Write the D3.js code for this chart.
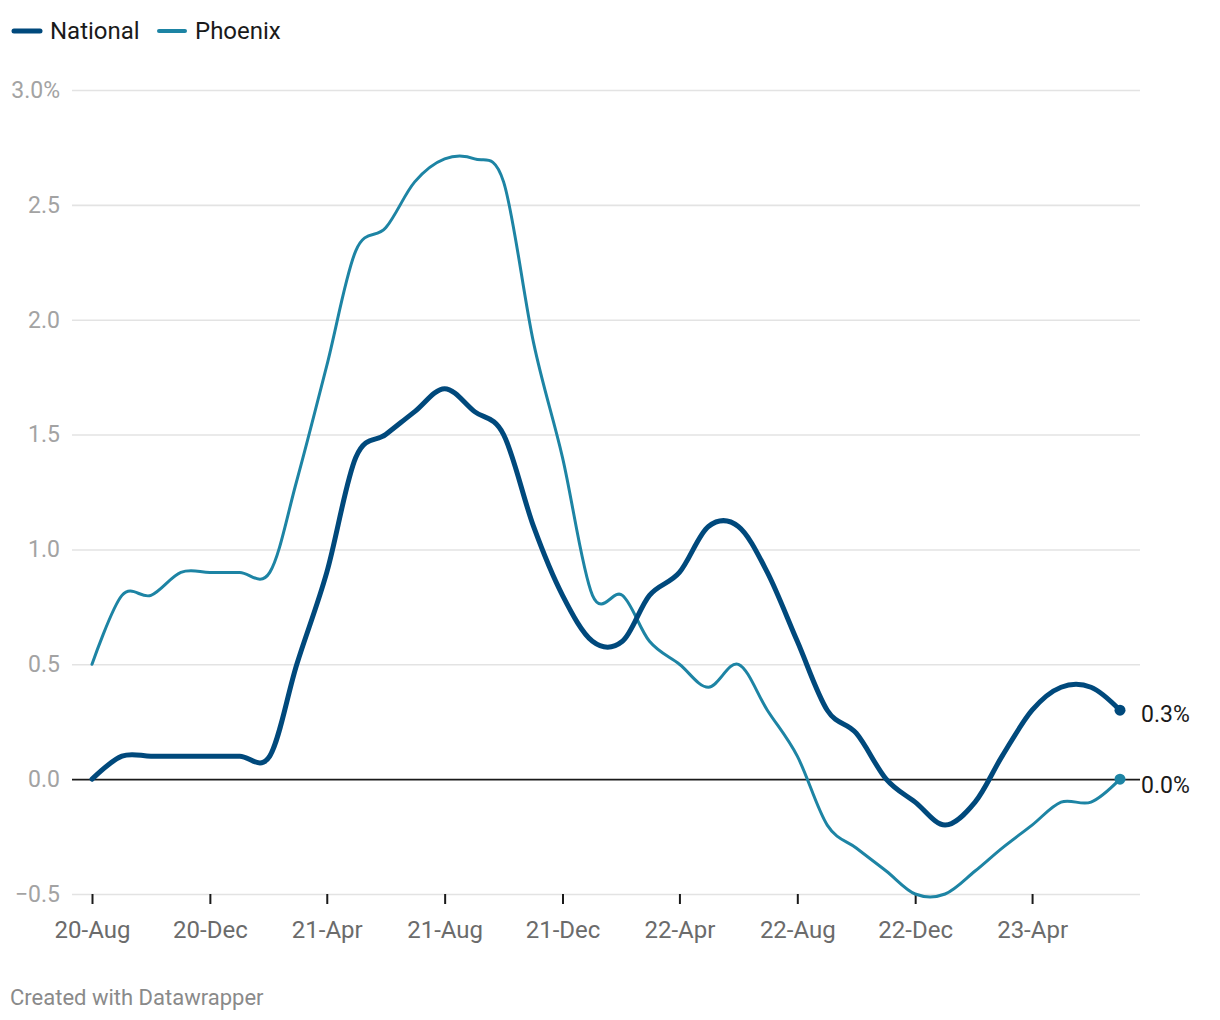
<!DOCTYPE html>
<html>
<head>
<meta charset="utf-8">
<script src="https://cdn.jsdelivr.net/npm/d3@7"></script>
<style>
	body { margin: 0; background: #fff; font-family: Roboto, "Noto Sans", sans-serif; }
	#chart svg { display: block; }
</style>
</head>
<body>
<div id="chart"></div>
<script>
var months = ["2020-08","2020-09","2020-10","2020-11","2020-12","2021-01","2021-02","2021-03","2021-04",
	"2021-05","2021-06","2021-07","2021-08","2021-09","2021-10","2021-11","2021-12","2022-01","2022-02",
	"2022-03","2022-04","2022-05","2022-06","2022-07","2022-08","2022-09","2022-10","2022-11","2022-12",
	"2023-01","2023-02","2023-03","2023-04","2023-05","2023-06","2023-07"];

var national = [0.0, 0.1, 0.1, 0.1, 0.1, 0.1, 0.1, 0.5, 0.9, 1.4, 1.5, 1.6, 1.7, 1.6, 1.5, 1.1, 0.8, 0.6,
	0.6, 0.8, 0.9, 1.1, 1.1, 0.9, 0.6, 0.3, 0.2, 0.0, -0.1, -0.2, -0.1, 0.1, 0.3, 0.4, 0.4, 0.3];

var phoenix = [0.5, 0.8, 0.8, 0.9, 0.9, 0.9, 0.9, 1.3, 1.8, 2.3, 2.4, 2.6, 2.7, 2.7, 2.6, 1.9, 1.4, 0.8,
	0.8, 0.6, 0.5, 0.4, 0.5, 0.3, 0.1, -0.2, -0.3, -0.4, -0.5, -0.5, -0.4, -0.3, -0.2, -0.1, -0.1, 0.0];

var yTicks = [-0.5, 0, 0.5, 1.0, 1.5, 2.0, 2.5, 3.0];
var xTicks = ["2020-08","2020-12","2021-04","2021-08","2021-12","2022-04","2022-08","2022-12","2023-04"];

var seriesNames = ["National", "Phoenix"];
var seriesColors = ["#00497c", "#1d84a4"];
var seriesWidths = [5, 3];

var width = 1220, height = 1020;
var parse = d3.timeParse("%Y-%m");

var series = [national, phoenix].map(function(vals, k) {
	return {
		name: seriesNames[k],
		color: seriesColors[k],
		width: seriesWidths[k],
		values: vals.map(function(v, i) { return { date: parse(months[i]), value: v }; })
	};
});

var svg = d3.select("#chart").append("svg")
	.attr("width", width)
	.attr("height", height);

var x = d3.scaleTime()
	.domain([parse(months[0]), parse(months[months.length - 1])])
	.range([92, 1120]);

var y = d3.scaleLinear()
	.domain([-0.5, 3])
	.range([894, 90]);

var gridLeft = 72, gridRight = 1140;

// horizontal grid + y labels
var yAxis = svg.append("g")
	.attr("transform", "translate(" + gridRight + ",0)")
	.call(d3.axisLeft(y)
		.tickValues(yTicks)
		.tickSize(gridRight - gridLeft)
		.tickPadding(12)
		.tickFormat(function(d) {
			var s = d3.format(".1f")(d).replace("-", "\u2212");
			return d === 3 ? s + "%" : s;
		}));
yAxis.select(".domain").remove();
yAxis.selectAll(".tick line")
	.attr("stroke", function(d) { return d === 0 ? "#1a1a1a" : "#e3e3e3"; })
	.attr("stroke-width", 1.6);
yAxis.selectAll(".tick text")
	.attr("fill", "#a3a3a3")
	.style("font-family", "Roboto")
	.style("font-size", "23px");
// zero line on top of the others
yAxis.selectAll(".tick").filter(function(d) { return d === 0; }).raise();

// x axis
var xAxis = svg.append("g")
	.attr("transform", "translate(0," + y(-0.5) + ")")
	.call(d3.axisBottom(x)
		.tickValues(xTicks.map(parse))
		.tickSize(10)
		.tickPadding(17)
		.tickFormat(d3.timeFormat("%y-%b")));
xAxis.select(".domain").remove();
xAxis.selectAll(".tick line")
	.attr("stroke", "#1a1a1a")
	.attr("stroke-width", 2);
xAxis.selectAll(".tick text")
	.attr("fill", "#6b6b6b")
	.style("font-family", "Roboto")
	.style("font-size", "24px");

var line = d3.line()
	.curve(d3.curveCardinal.tension(0))
	.x(function(d) { return x(d.date); })
	.y(function(d) { return y(d.value); });

// draw phoenix first so national sits on top
var lines = svg.append("g")
	.selectAll("path")
	.data(series.slice().reverse())
	.enter().append("path")
	.attr("d", function(d) { return line(d.values); })
	.attr("fill", "none")
	.attr("stroke", function(d) { return d.color; })
	.attr("stroke-width", function(d) { return d.width; })
	.attr("stroke-linecap", "round")
	.attr("stroke-linejoin", "round");

// end dots and value labels
var ends = svg.append("g")
	.selectAll("g")
	.data(series)
	.enter().append("g");
ends.append("circle")
	.attr("cx", function(d) { return x(d.values[d.values.length - 1].date); })
	.attr("cy", function(d) { return y(d.values[d.values.length - 1].value); })
	.attr("r", 5.5)
	.attr("fill", function(d) { return d.color; });
ends.append("text")
	.attr("x", 1141)
	.attr("y", function(d, i) { return y(d.values[d.values.length - 1].value) + (i === 0 ? 4 : 6); })
	.attr("dy", "0.35em")
	.attr("fill", "#1a1a1a")
	.style("font-size", "23px")
	.text(function(d) { return d3.format(".1f")(d.values[d.values.length - 1].value) + "%"; });

// legend
var legendX = [12, 157];
var legend = svg.append("g")
	.selectAll("g")
	.data(series)
	.enter().append("g")
	.attr("transform", function(d, i) { return "translate(" + legendX[i] + ",31)"; });
legend.append("line")
	.attr("x1", 2).attr("x2", 28)
	.attr("stroke", function(d) { return d.color; })
	.attr("stroke-width", function(d, i) { return i === 0 ? 5 : 4; })
	.attr("stroke-linecap", "round");
legend.append("text")
	.attr("x", 38)
	.attr("dy", "0.35em")
	.attr("fill", "#1a1a1a")
	.style("font-size", "24px")
	.text(function(d) { return d.name; });

svg.append("text")
	.attr("x", 10)
	.attr("y", 997)
	.attr("dy", "0.35em")
	.attr("fill", "#8a8a8a")
	.style("font-size", "22px")
	.text("Created with Datawrapper");
</script>
</body>
</html>
